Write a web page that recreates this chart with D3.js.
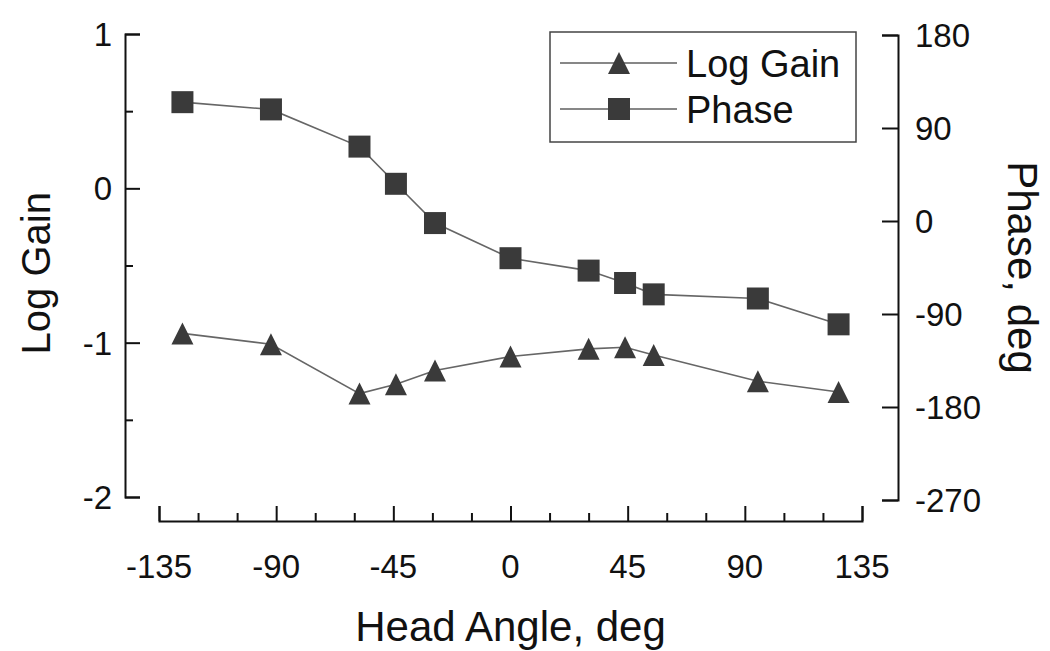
<!DOCTYPE html>
<html lang="en">
<head>
    <meta charset="UTF-8">
    <title>Log Gain and Phase vs Head Angle</title>
    <script src="https://d3js.org/d3.v7.min.js"></script>
    <style>
        body { margin: 0; background: #fff; }
        svg { display: block; font-family: 'Liberation Sans', Arial, sans-serif; }
    </style>
</head>
<body>
    <script>
        // data
        const headAngle = [-126, -92, -58, -44, -29, 0, 30, 44, 55, 95, 126];
        const logGain = [-0.94, -1.01, -1.33, -1.27, -1.18, -1.09, -1.04, -1.03, -1.08, -1.25, -1.32];
        const phase = [115, 108, 72, 36, -2, -36, -48, -60, -71, -75, -100];

        const xTicks = [-135, -90, -45, 0, 45, 90, 135];
        const gainTicks = [1, 0, -1, -2];
        const phaseTicks = [180, 90, 0, -90, -180, -270];

        const width = 1050, height = 651;
        const ink = "#111";
        const markFill = "#3a3a3a";
        const lineCol = "#666";
        const tickFont = 33;

        const x = d3.scaleLinear().domain([-135, 135]).range([159, 862]);
        const yL = d3.scaleLinear().domain([-2, 1]).range([497, 34]);
        const yR = d3.scaleLinear().domain([-270, 180]).range([500, 35]);

        const svg = d3.select("body").append("svg")
            .attr("width", width)
            .attr("height", height);

        // left axis (ticks point inward)
        const gL = svg.append("g").attr("transform", "translate(125,0)");
        gL.call(d3.axisRight(yL).tickValues(d3.range(-2, 1.01, 0.5)).tickSize(15));
        gL.selectAll(".tick line").attr("x2", d => Number.isInteger(d) ? 15 : 8);

        // right axis
        const gR = svg.append("g").attr("transform", "translate(898,0)");
        gR.call(d3.axisLeft(yR).tickValues(phaseTicks).tickSize(16));

        // bottom axis
        const gX = svg.append("g").attr("transform", "translate(0,521)");
        gX.call(d3.axisTop(x).tickValues(d3.range(-135, 136, 15)).tickSize(15));
        gX.selectAll(".tick line").attr("y2", d => d % 45 === 0 ? -15 : -8);

        svg.selectAll(".tick text").remove();
        svg.selectAll(".domain, .tick line")
            .attr("stroke", ink).attr("stroke-width", 2);

        // tick labels
        svg.append("g").selectAll("text").data(gainTicks).join("text")
            .attr("x", 112).attr("y", d => yL(d)).attr("dy", "0.36em")
            .attr("text-anchor", "end").attr("font-size", tickFont).attr("fill", ink)
            .text(d => d);
        svg.append("g").selectAll("text").data(phaseTicks).join("text")
            .attr("x", 915).attr("y", d => yR(d)).attr("dy", "0.36em")
            .attr("text-anchor", "start").attr("font-size", tickFont).attr("fill", ink)
            .text(d => d);
        svg.append("g").selectAll("text").data(xTicks).join("text")
            .attr("x", d => x(d)).attr("y", 578)
            .attr("text-anchor", "middle").attr("font-size", tickFont).attr("fill", ink)
            .text(d => d);

        // axis titles
        svg.append("text")
            .attr("x", x(0)).attr("y", 641)
            .attr("text-anchor", "middle").attr("font-size", 42).attr("fill", ink)
            .text("Head Angle, deg");
        svg.append("text")
            .attr("transform", `translate(50,${yL(-0.55)}) rotate(-90)`)
            .attr("text-anchor", "middle").attr("font-size", 40).attr("fill", ink)
            .text("Log Gain");
        svg.append("text")
            .attr("transform", `translate(1008,${yR(-45)}) rotate(90)`)
            .attr("text-anchor", "middle").attr("font-size", 42).attr("fill", ink)
            .text("Phase, deg");

        const tri = "M0,-11L11,11L-11,11Z";
        const sq = "M-11,-11H11V11H-11Z";

        const gainPts = headAngle.map((a, i) => [x(a), yL(logGain[i])]);
        const phasePts = headAngle.map((a, i) => [x(a), yR(phase[i])]);
        const line = d3.line();

        svg.append("path").attr("d", line(gainPts))
            .attr("fill", "none").attr("stroke", lineCol).attr("stroke-width", 1.6);
        svg.append("path").attr("d", line(phasePts))
            .attr("fill", "none").attr("stroke", lineCol).attr("stroke-width", 1.6);

        svg.append("g").selectAll("path").data(gainPts).join("path")
            .attr("transform", d => `translate(${d[0]},${d[1]})`)
            .attr("d", tri).attr("fill", markFill);
        svg.append("g").selectAll("path").data(phasePts).join("path")
            .attr("transform", d => `translate(${d[0]},${d[1]})`)
            .attr("d", sq).attr("fill", markFill);

        // legend
        const legend = svg.append("g");
        legend.append("rect")
            .attr("x", 550).attr("y", 32).attr("width", 306).attr("height", 110)
            .attr("fill", "#fff").attr("stroke", "#444").attr("stroke-width", 1.5);
        const items = [{ label: "Log Gain", mark: tri, y: 63 }, { label: "Phase", mark: sq, y: 109 }];
        items.forEach(it => {
            legend.append("line")
                .attr("x1", 560).attr("x2", 677).attr("y1", it.y).attr("y2", it.y)
                .attr("stroke", ink).attr("stroke-width", 1.2);
            legend.append("path")
                .attr("transform", `translate(619,${it.y})`)
                .attr("d", it.mark).attr("fill", markFill);
            legend.append("text")
                .attr("x", 686).attr("y", it.y).attr("dy", "0.36em")
                .attr("font-size", 38).attr("fill", ink)
                .text(it.label);
        });
    </script>
</body>
</html>
